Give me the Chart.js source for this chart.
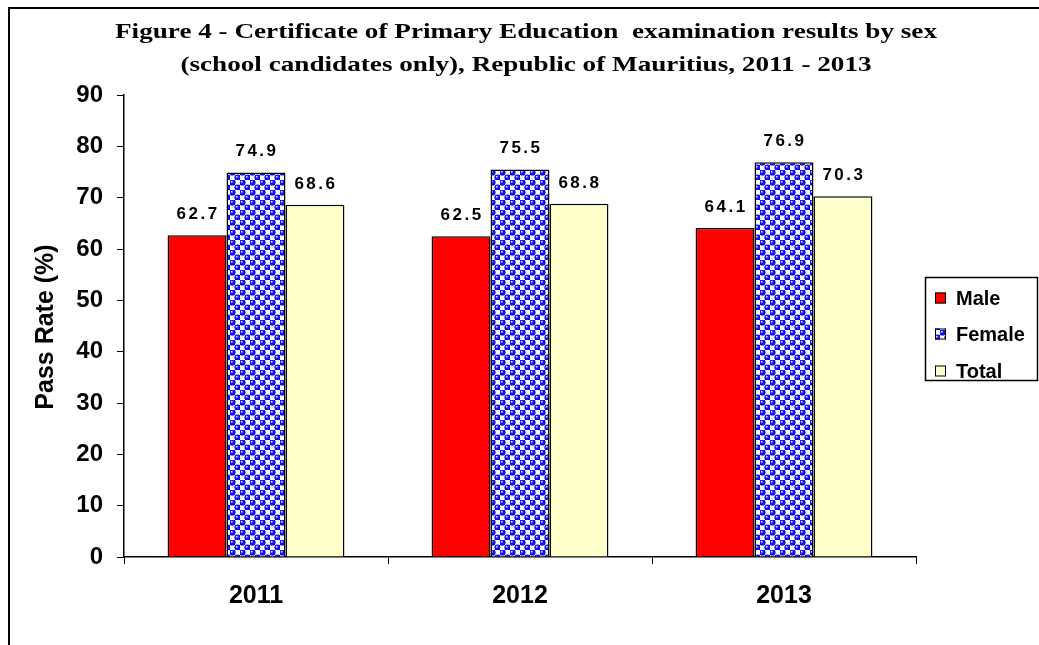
<!DOCTYPE html>
<html><head><meta charset="utf-8">
<script src="https://cdn.jsdelivr.net/npm/chart.js@4.4.1/dist/chart.umd.min.js"></script>
<style>html,body{margin:0;padding:0;background:#fff;overflow:hidden;} #wrap{position:relative;width:1039px;height:645px;}</style>
</head><body><div id="wrap"><canvas id="c" width="1039" height="645"></canvas></div>
<script>
const categories = ['2011', '2012', '2013'];
const maleValues = [62.7, 62.5, 64.1];
const femaleValues = [74.9, 75.5, 76.9];
const totalValues = [68.6, 68.8, 70.3];
const seriesNames = ['Male', 'Female', 'Total'];
const yMin = 0, yMax = 90, yStep = 10;
const titleLines = ['Figure 4 - Certificate of Primary Education  examination results by sex',
                    '(school candidates only), Republic of Mauritius, 2011 - 2013'];
const yAxisTitle = 'Pass Rate (%)';

function makePattern() {
  const t = document.createElement('canvas');
  t.width = 10; t.height = 10;
  const g = t.getContext('2d');
  g.fillStyle = '#ffffff';
  g.fillRect(0, 0, 10, 10);
  g.fillStyle = '#5a5aff';
  g.fillRect(0, 0, 5, 5);
  g.fillRect(5, 5, 5, 5);
  [[2.5, 2.5], [7.5, 7.5]].forEach(([cx, cy]) => {
    const rg = g.createRadialGradient(cx - 1, cy - 1, 0.3, cx, cy, 3.2);
    rg.addColorStop(0, '#e0e0ff');
    rg.addColorStop(0.35, '#2020ff');
    rg.addColorStop(1, '#0000d8');
    g.fillStyle = rg;
    g.beginPath(); g.arc(cx, cy, 3.1, 0, Math.PI * 2); g.fill();
  });
  return document.getElementById('c').getContext('2d').createPattern(t, 'repeat');
}
const femalePattern = makePattern();

const decorPlugin = {
  id: 'decor',
  beforeDraw(chart) {
    const ctx = chart.ctx;
    ctx.save();
    ctx.fillStyle = '#fff';
    ctx.fillRect(0, 0, chart.width, chart.height);
    ctx.strokeStyle = '#000';
    ctx.lineWidth = 2;
    ctx.beginPath();
    ctx.moveTo(9, 645); ctx.lineTo(9, 8); ctx.lineTo(1039, 8);
    ctx.stroke();
    ctx.restore();
  },
  afterDraw(chart) {
    const ctx = chart.ctx;
    ctx.save();
    // title (horizontally stretched like the reference)
    ctx.fillStyle = '#000';
    ctx.font = 'bold 22px "Liberation Serif", "Times New Roman", serif';
    ctx.textAlign = 'center';
    ctx.textBaseline = 'middle';
    const w0 = ctx.measureText(titleLines[0]).width;
    const sx = 822 / w0;
    ctx.save();
    ctx.translate(526, 0);
    ctx.scale(sx, 1);
    ctx.fillText(titleLines[0], 0, 32);
    ctx.fillText(titleLines[1], 0, 65);
    ctx.restore();
    // y axis title
    ctx.save();
    ctx.translate(46, 327);
    ctx.rotate(-Math.PI / 2);
    ctx.font = 'bold 25px "Liberation Sans", Arial, sans-serif';
    ctx.fillText(yAxisTitle, 0, 0);
    ctx.restore();
    // data labels
    ctx.font = 'bold 17px "Liberation Sans", Arial, sans-serif';
    ctx.letterSpacing = '2.5px';
    ctx.textAlign = 'center';
    chart.data.datasets.forEach((ds, i) => {
      const meta = chart.getDatasetMeta(i);
      meta.data.forEach((bar, j) => {
        ctx.fillText(ds.data[j].toFixed(1), bar.x + 1, bar.y - 21);
      });
    });
    ctx.letterSpacing = '0px';
    // legend
    ctx.strokeStyle = '#000';
    ctx.lineWidth = 1.5;
    ctx.strokeRect(925.5, 277.5, 112, 103);
    ctx.font = 'bold 20px "Liberation Sans", Arial, sans-serif';
    ctx.textAlign = 'left';
    const ys = [298, 334, 371];
    chart.data.datasets.forEach((ds, i) => {
      ctx.fillStyle = ds.backgroundColor;
      ctx.fillRect(935, ys[i] - 5.5, 11, 11);
      ctx.lineWidth = 1;
      ctx.strokeRect(935.5, ys[i] - 5, 10, 10);
      ctx.fillStyle = '#000';
      ctx.fillText(ds.label, 956, ys[i] + 1);
    });
    ctx.restore();
  }
};

new Chart(document.getElementById('c'), {
  type: 'bar',
  data: {
    labels: categories,
    datasets: [
      { label: seriesNames[0], data: maleValues, backgroundColor: '#ff0000', borderColor: '#000', borderWidth: 1.5 },
      { label: seriesNames[1], data: femaleValues, backgroundColor: femalePattern, borderColor: '#000', borderWidth: 1.5 },
      { label: seriesNames[2], data: totalValues, backgroundColor: '#ffffcc', borderColor: '#000', borderWidth: 1.5 }
    ]
  },
  options: {
    responsive: false,
    animation: false,
    devicePixelRatio: 1,
    layout: { padding: { top: 95, right: 123, bottom: 0, left: 0 } },
    categoryPercentage: 0.67,
    barPercentage: 1.0,
    plugins: { legend: { display: false }, title: { display: false }, tooltip: { enabled: false } },
    scales: {
      x: {
        grid: { offset: true, drawOnChartArea: false, drawTicks: true, tickLength: 7, color: '#000', lineWidth: 1 },
        border: { display: true, color: '#000', width: 1.5 },
        ticks: { color: '#000', font: { family: '"Liberation Sans", Arial, sans-serif', size: 25, weight: 'bold' }, padding: 17 },
        afterFit(s) { s.height = 88; }
      },
      y: {
        min: yMin, max: yMax,
        grid: { drawOnChartArea: false, drawTicks: true, tickLength: 7, color: '#000', lineWidth: 1 },
        border: { display: true, color: '#000', width: 1.5 },
        ticks: { stepSize: yStep, color: '#000', font: { family: '"Liberation Sans", Arial, sans-serif', size: 24, weight: 'bold' }, padding: 14 },
        afterFit(s) { s.width = 124; }
      }
    }
  },
  plugins: [decorPlugin]
});
</script>
</body></html>
